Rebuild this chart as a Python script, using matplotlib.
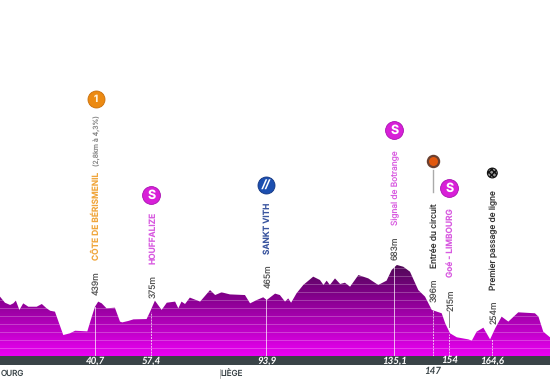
import numpy as np
import matplotlib.pyplot as plt
from matplotlib.colors import LinearSegmentedColormap
from matplotlib.patches import PathPatch

plt.rcParams['font.family'] = ['Inter', 'DejaVu Sans']
plt.rcParams['text.hinting'] = 'none'

# profile of the stage, km and altitude (m)
km = [11.05, 12.6, 14.2, 15.2, 16.0, 17.1, 18.3, 19.9, 22.5, 24.1, 25.6, 26.7, 28.2, 29.3, 30.8, 32.9,
      34.5, 38.3, 39.7, 40.7, 41.7, 42.8, 44.3, 46.9, 48.5, 49.2, 51.1, 52.7, 56.8, 57.9, 59.4, 61.5,
      63.1, 65.7, 66.7, 67.7, 68.8, 70.3, 73.5, 76.6, 78.2, 80.2, 82.8, 87.5, 89.1, 91.2, 93.2, 94.3,
      96.9, 98.4, 100.0, 101.0, 101.9, 103.6, 105.7, 108.8, 110.9, 112.0, 113.0, 114.0, 115.6, 117.2,
      118.7, 120.3, 122.9, 126.0, 129.1, 131.7, 133.3, 134.9, 136.9, 139.0, 141.6, 143.7, 145.8, 148.9,
      150.0, 151.5, 153.6, 157.2, 158.3, 159.8, 161.9, 164.0, 165.6, 167.6, 169.7, 172.8, 178.0, 179.1,
      180.6, 182.7]
alt = [471, 433, 419, 429, 446, 388, 429, 408, 408, 425, 398, 383, 377, 315, 231, 242,
       258, 254, 346, 408, 440, 429, 398, 402, 315, 310, 319, 329, 331, 377, 446, 388,
       433, 440, 398, 440, 425, 465, 440, 512, 481, 498, 485, 481, 429, 450, 467, 450,
       490, 481, 440, 460, 433, 492, 544, 596, 575, 544, 571, 544, 585, 550,
       558, 533, 606, 585, 544, 571, 638, 669, 658, 627, 512, 471, 388, 367,
       304, 242, 217, 204, 196, 252, 277, 204, 273, 346, 315, 373, 367, 346,
       252, 217]

# points of the route
pt_km = [40.8, 58.3, 94.2, 134.1, 146.2, 151.3, 164.7]
pt_top = [408, 377, 455, 669, 388, 235, 204]
pt_alt = ['439m', '375m', '465m', '683m', '396m', '215m', '254m']
pt_tick = ['40,7', '57,4', '93,9', '135,1', '147', '154', '164,6']
pt_name = ['CÔTE DE BÉRISMENIL', 'HOUFFALIZE', 'SANKT VITH', 'Signal de Botrange',
           'Entrée du circuit', 'Goé - LIMBOURG', 'Premier passage de ligne']
pt_col = ['#f0a63c', '#d85ae0', '#3a559f', '#d85ae0', '#333333', '#d85ae0', '#333333']
climb_note = ' (2,8km à 4,3%)'
towns = ['OURG', 'LIÈGE']
grid_alt = [150, 200, 250, 300, 350, 400, 450, 500, 550, 600, 650]


def yp(p):
    # pixel row of the picture -> altitude on the axis
    return 100 + (356 - p) / 0.16


def xp(p):
    # pixel column of the picture -> km on the axis
    return km[0] + p / 3.204


fig = plt.figure(figsize=(5.5, 3.9), dpi=100)
ax = fig.add_axes([0, 0, 1, 1])
xlim = (km[0], km[-1])
ylim = (yp(390), yp(0))

# gradient under the profile
cmap = LinearSegmentedColormap.from_list('prof', ['#ea00f2', '#b300bb', '#7d0085', '#4a0a50'])
grad = np.linspace(0, 1, 200).reshape(-1, 1)
im = ax.imshow(grad, origin='lower', extent=(xlim[0], xlim[1], 100, 690), cmap=cmap, aspect='auto', zorder=1)
poly = ax.fill_between(km, alt, 100, color='none')
clip = PathPatch(poly.get_paths()[0], transform=ax.transData, fc='none', ec='none')
ax.add_patch(clip)
im.set_clip_path(clip)

for g in grid_alt:
    l, = ax.plot(xlim, [g, g], color='white', lw=0.7, alpha=0.25, zorder=2)
    l.set_clip_path(clip)

for x, t in zip(pt_km, pt_top):
    ax.plot([x, x], [100, t], color='white', lw=0.7, alpha=0.7, zorder=3,
            ls='-' if x in (40.8, 94.2, 134.1) else (0, (2, 1)))

# bottom band
ax.axhspan(yp(365), 100, color='#3a4448', lw=0, zorder=4)
for x, s in zip(pt_km, pt_tick):
    if s == '147':
        ax.text(x, yp(371), s, color='#3a4448', fontsize=7, fontweight='bold', style='italic',
                family='Lato', ha='center', va='center')
    else:
        ax.text(x, yp(360.5), s, color='white', fontsize=7, fontweight='bold', style='italic',
                family='Lato', ha='center', va='center', zorder=5)
ax.text(xp(0.5), yp(374), towns[0], color='#3a4448', fontsize=5.8, ha='left', va='center')
ax.text(xp(220.5), yp(374), towns[1], color='#3a4448', fontsize=5.8, ha='left', va='center')
ax.plot([xp(219.5)] * 2, [yp(369), yp(378)], color='#999999', lw=0.5)

# altitudes, vertical text
alt_base = [295, 298, 288, 260, 302, 311, 324]
for x, a, b in zip(pt_km, pt_alt, alt_base):
    ax.text(x + 0.4, yp(b), a, rotation=90, color='#555555', fontsize=6.2, ha='center', va='bottom')

# names, vertical text
name_base = [260, 264, 254, 225, 268, 277, 290]
for i in range(len(pt_name)):
    bold = 'semibold' if i in (0, 1, 2, 5) else 'normal'
    ax.text(pt_km[i] + 0.4, yp(name_base[i]), pt_name[i], rotation=90, color=pt_col[i], fontsize=6,
            fontweight=bold, ha='center', va='bottom')
ax.text(pt_km[0] + 0.4, yp(168), climb_note, rotation=90, color='#888888', fontsize=5,
        ha='center', va='bottom')

# line under the entry icon, tick above 215m
ax.plot([pt_km[4]] * 2, [yp(170), yp(192)], color='#aaaaaa', lw=1)
ax.plot([pt_km[5]] * 2, [yp(311), yp(327)], color='#777777', lw=0.6)

# icons
icon_y = [99, 195, 185, 130, 161, 188, 173]
ax.scatter(pt_km[0] + 0.2, yp(icon_y[0]), s=150, color='#ec8a12', edgecolor='#c96f0a', lw=0.6, zorder=6)
ax.text(pt_km[0] + 0.2, yp(icon_y[0]), '1', color='#fff1d8', fontsize=7, fontweight='bold',
        ha='center', va='center', zorder=7)
for i in (1, 3, 5):
    ax.scatter(pt_km[i], yp(icon_y[i]), s=165, color='#d81fd8', edgecolor='#a70fb0', lw=0.6, zorder=6)
    ax.text(pt_km[i], yp(icon_y[i]), 'S', color='white', fontsize=9, fontweight='bold',
            ha='center', va='center', zorder=7)
ax.scatter(pt_km[2], yp(icon_y[2]), s=150, color='#1c4fb0', edgecolor='#123580', lw=0.6, zorder=6)
ax.text(pt_km[2], yp(icon_y[2]), '//', color='white', fontsize=8, fontweight='bold', style='italic',
        ha='center', va='center', zorder=7)
ax.scatter(pt_km[4], yp(icon_y[4]), s=65, color='#e2580e', edgecolor='#6b4030', lw=1.6, zorder=6)
ax.scatter(pt_km[6], yp(icon_y[6]), s=50, color='#999999', edgecolor='#111111', lw=0.8,
           hatch='xxxxxx', zorder=6)

ax.set_xlim(xlim)
ax.set_ylim(ylim)
ax.axis('off')
fig.savefig('out.png', dpi=100)
